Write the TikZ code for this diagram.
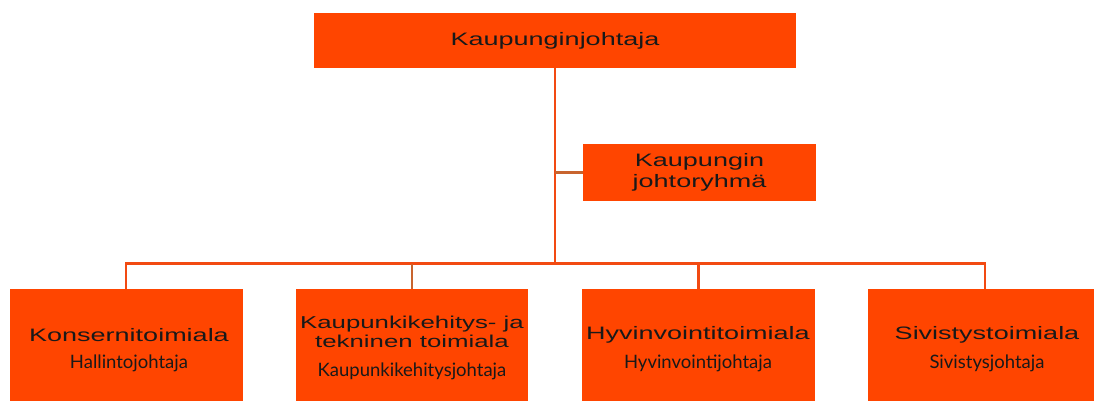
\documentclass[tikz,border=0pt]{standalone}
\usepackage{fontspec}
\newfontfamily\widefont[FakeStretch=1.5]{Liberation Sans}
\newfontfamily\subfont{Lato}
\definecolor{boxfill}{HTML}{FF4500}
\definecolor{linecol}{HTML}{F24A12}
\definecolor{browncol}{HTML}{C8642E}
\begin{document}
\begin{tikzpicture}[x=1pt,y=-1pt,
  orgbox/.style={fill=boxfill,draw=none,inner sep=0pt},
  head/.style={font=\widefont\fontsize{18}{20}\selectfont,text=black!90,align=center},
  sub/.style={font=\subfont\fontsize{18.5}{21}\selectfont,text=black!90,align=center},
  conn/.style={draw=linecol,line width=2.6pt},
  bconn/.style={draw=browncol,line width=2pt}]
\useasboundingbox (0,0) rectangle (1094,401);
% boxes
\node[orgbox,minimum width=482pt,minimum height=55pt] (top) at (555,40.5) {};
\node[head] at (top) {Kaupunginjohtaja};
\node[orgbox,minimum width=233pt,minimum height=57pt] (grp) at (699.5,172.5) {};
\node[head,font=\widefont\fontsize{18}{21}\selectfont] at (grp) {Kaupungin\\johtoryhmä};
\node[orgbox,minimum width=233pt,minimum height=112pt] (b1) at (126.5,345) {};
\node[orgbox,minimum width=232pt,minimum height=112pt] (b2) at (412,345) {};
\node[orgbox,minimum width=233pt,minimum height=112pt] (b3) at (698.5,345) {};
\node[orgbox,minimum width=233pt,minimum height=112pt] (b4) at (984.5,345) {};
% texts
\node[head] (t1) at (129,335) {Konsernitoimiala};
\node[sub] (s1) at (129,363) {Hallintojohtaja};
\node[head,font=\widefont\fontsize{17.2}{19.5}\selectfont] (t2) at (412,332) {Kaupunkikehitys- ja\\tekninen toimiala};
\node[sub] (s2) at (412,371) {Kaupunkikehitysjohtaja};
\node[head] (t3) at (698,335) {Hyvinvointitoimiala};
\node[sub] (s3) at (698,363) {Hyvinvointijohtaja};
\node[head] (t4) at (987,335) {Sivistystoimiala};
\node[sub] (s4) at (987,363) {Sivistysjohtaja};
% connectors
\coordinate (bus) at (555,263.5);
\coordinate (busL) at (126,263.5);
\coordinate (busR) at (985,263.5);
\draw[conn] (top.south) -- (bus);
\draw[bconn,line width=2.6pt] (555,172.5) -- (grp.west);
\draw[conn] (busL |- b1.north) -- (busL) -- (busR) -- (busR |- b4.north);
\draw[bconn] (bus -| b2.north) -- (b2.north);
\draw[conn] (bus -| b3.north) -- (b3.north);
\end{tikzpicture}
\end{document}
